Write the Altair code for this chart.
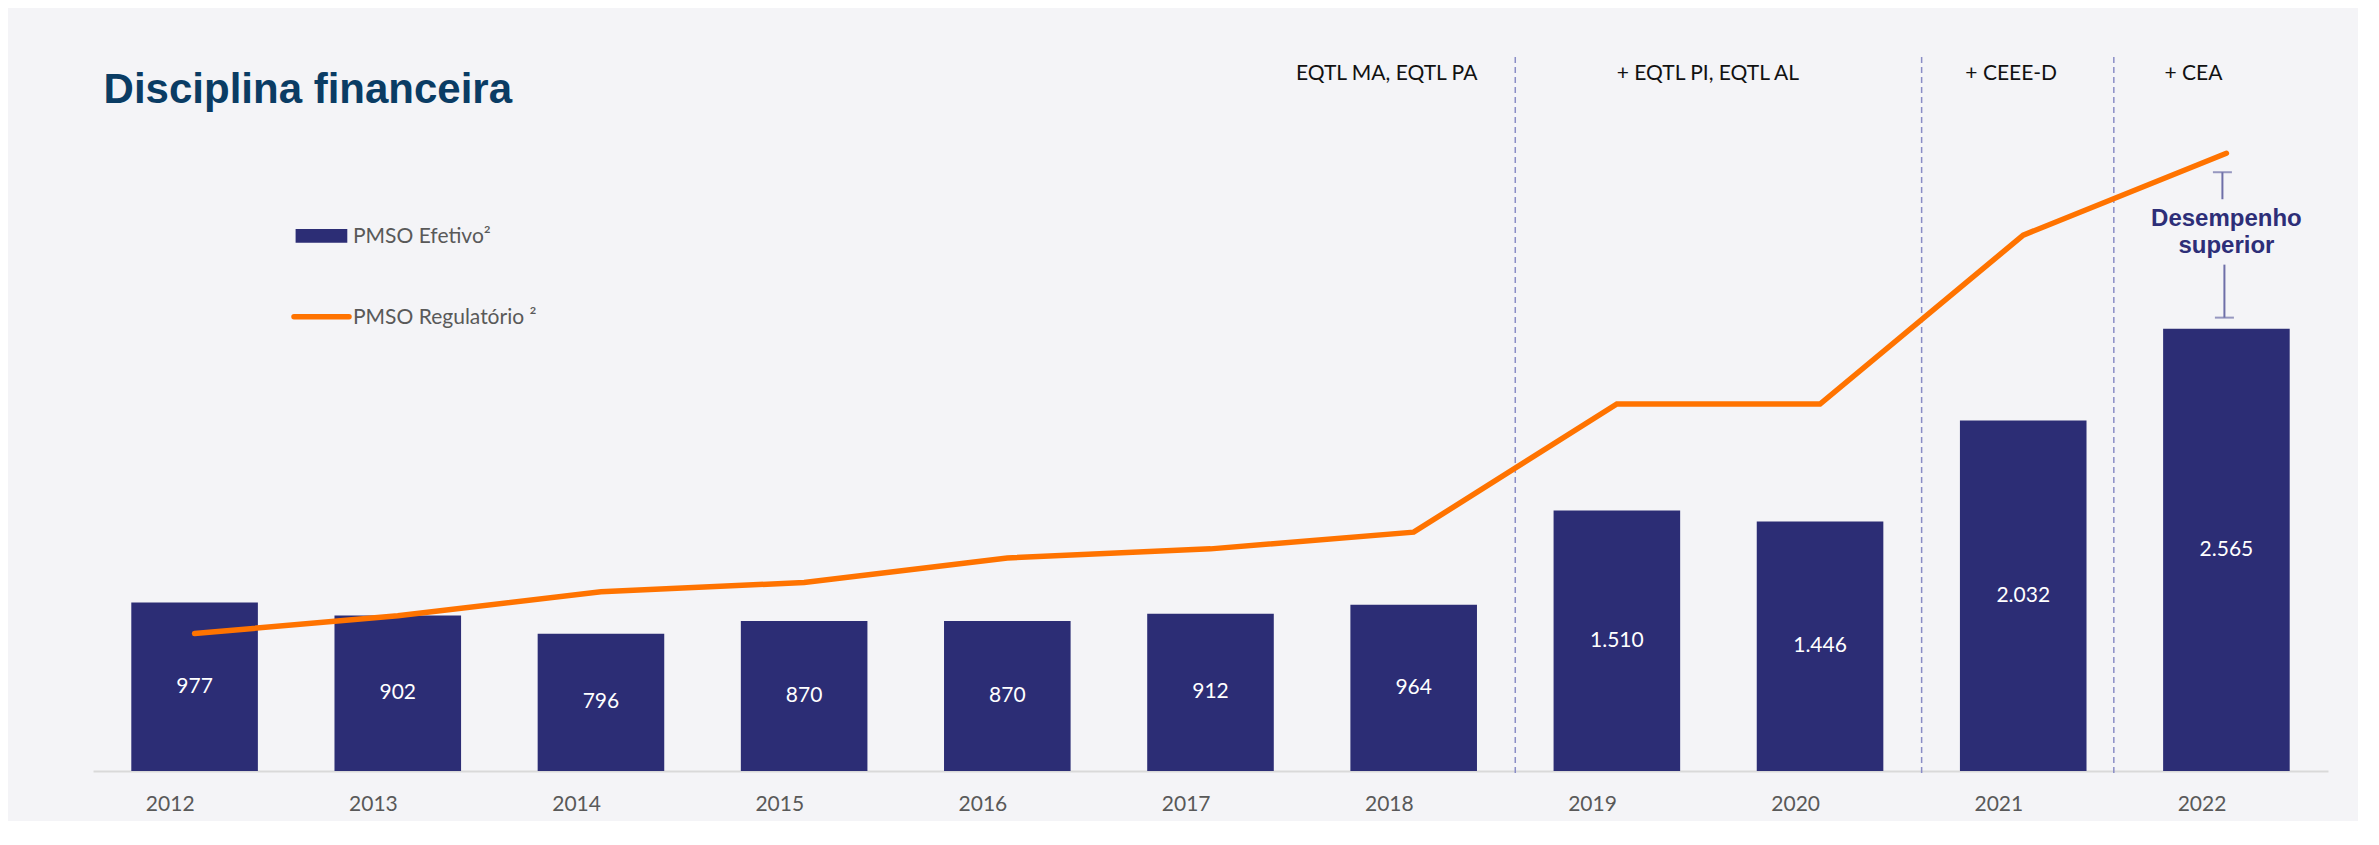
import altair as alt
import pandas as pd

# ---------------- data ----------------
years = [str(y) for y in range(2012, 2023)]
pmso_efetivo = [977, 902, 796, 870, 870, 912, 964, 1510, 1446, 2032, 2565]
pmso_regulatorio = [797, 900, 1039, 1093, 1235, 1288, 1385, 2128, 2128, 3107, 3582]
legend_labels = ["PMSO Efetivo²", "PMSO Regulatório ²"]
title_text = ["Disciplina financeira"]
group_labels = ["EQTL MA, EQTL PA", "+ EQTL PI, EQTL AL", "+ CEEE-D", "+ CEA"]
group_anchor_years = ["2018", "2019", "2021", "2022"]
divider_years = ["2019", "2021", "2022"]
annotation_lines = ["Desempenho", "superior"]

df = pd.DataFrame({"ano": years, "efetivo": pmso_efetivo, "regulatorio": pmso_regulatorio})
groups_df = pd.DataFrame({"ano": group_anchor_years, "txt": group_labels})
div_df = pd.DataFrame({"ano": divider_years})
title_df = pd.DataFrame({"t": title_text})
leg_df = pd.DataFrame({"t": legend_labels})
ann_df = pd.DataFrame({"ano": ["2022", "2022"], "t": annotation_lines})

# ---------------- style ----------------
W, H = 2235, 714
STEP = W / 11
NAVY = "#2C2D75"
ORANGE = "#FF7300"
GRAY = "#595959"
FONT = "Lato"

x_enc = alt.X(
    "ano:N",
    scale=alt.Scale(domain=years, paddingInner=0.377, paddingOuter=0.1885),
    axis=alt.Axis(
        title=None, labelAngle=0, ticks=False, tickSize=0, labelPadding=33,
        labelFont=FONT, labelFontSize=21, labelColor=GRAY,
        domainColor="#D9D9D9", domainWidth=2, grid=False,
    ),
)
y_scale = alt.Scale(domain=[0, 4140], nice=False, zero=True)

base = alt.Chart(df)

bars = base.mark_bar(color=NAVY).encode(
    x=x_enc, y=alt.Y("efetivo:Q", scale=y_scale, axis=None)
)

bar_labels = base.transform_calculate(
    mid="datum.efetivo / 2",
    lbl="replace(format(datum.efetivo, ','), ',', '.')",
).mark_text(color="white", font=FONT, fontSize=21, baseline="middle").encode(
    x=alt.X("ano:N"), y=alt.Y("mid:Q", scale=y_scale), text="lbl:N"
)

line = base.mark_line(color=ORANGE, strokeWidth=5.5, strokeCap="round").encode(
    x=alt.X("ano:N"), y=alt.Y("regulatorio:Q", scale=y_scale)
)

div_common = dict(strokeDash=[6, 4], color="#8A8DC6", strokeWidth=1.5)
dividers_a = alt.Chart(div_df).transform_filter("datum.ano != '2022'").mark_rule(
    xOffset=-STEP / 2, **div_common
).encode(x=alt.X("ano:N"), y=alt.value(0), y2=alt.value(H + 2))
dividers_b = alt.Chart(div_df).transform_filter("datum.ano == '2022'").mark_rule(
    xOffset=-STEP / 2 - 11, **div_common
).encode(x=alt.X("ano:N"), y=alt.value(0), y2=alt.value(H + 2))

group_offsets = [-27, 91, -12, -33]
group_layers = []
for lab, off in zip(group_labels, group_offsets):
    group_layers.append(
        alt.Chart(groups_df).transform_filter(alt.datum.txt == lab).mark_text(
            font=FONT, fontSize=21, color="#111111", baseline="alphabetic", dx=off
        ).encode(x=alt.X("ano:N"), y=alt.value(23), text="txt:N")
    )

title = alt.Chart(title_df).mark_text(
    align="left", baseline="alphabetic", font="Liberation Sans", fontWeight="bold",
    fontSize=42, color="#0A3C64",
).encode(x=alt.value(10.6), y=alt.value(46), text="t:N")

# legend
leg_swatch = alt.Chart(leg_df.head(1)).mark_rect(color=NAVY).encode(
    x=alt.value(202.6), x2=alt.value(254.3), y=alt.value(172), y2=alt.value(185.7)
)
leg_line = alt.Chart(leg_df.head(1)).mark_rule(color=ORANGE, strokeWidth=5.5, strokeCap="round").encode(
    x=alt.value(201), x2=alt.value(256), y=alt.value(259.7)
)
leg_t1 = alt.Chart(leg_df).transform_filter(alt.datum.t == legend_labels[0]).mark_text(
    align="left", baseline="alphabetic", font=FONT, fontSize=21, color=GRAY
).encode(x=alt.value(260), y=alt.value(185.7), text="t:N")
leg_t2 = alt.Chart(leg_df).transform_filter(alt.datum.t == legend_labels[1]).mark_text(
    align="left", baseline="alphabetic", font=FONT, fontSize=21, color=GRAY
).encode(x=alt.value(260), y=alt.value(267), text="t:N")

# annotation "Desempenho superior"
ANN = "#6E6FA8"
d22 = base.transform_filter("datum.ano == '2022'")
top_cap = d22.mark_tick(color=ANN, size=19, thickness=2, xOffset=-4, yOffset=19).encode(
    x=alt.X("ano:N"), y=alt.Y("regulatorio:Q", scale=y_scale)
)
top_stem = d22.mark_rule(color=ANN, strokeWidth=2, xOffset=-4, yOffset=19, y2Offset=46).encode(
    x=alt.X("ano:N"), y=alt.Y("regulatorio:Q", scale=y_scale), y2="regulatorio:Q"
)
bot_cap = d22.mark_tick(color=ANN, size=19, thickness=2, xOffset=-2, yOffset=-11).encode(
    x=alt.X("ano:N"), y=alt.Y("efetivo:Q", scale=y_scale)
)
bot_stem = d22.mark_rule(color=ANN, strokeWidth=2, xOffset=-2, yOffset=-64, y2Offset=-11).encode(
    x=alt.X("ano:N"), y=alt.Y("efetivo:Q", scale=y_scale), y2="efetivo:Q"
)
ann_t1 = alt.Chart(ann_df).transform_filter(alt.datum.t == annotation_lines[0]).mark_text(
    font="Liberation Sans", fontWeight="bold", fontSize=24, color="#2D2E78", baseline="alphabetic"
).encode(x=alt.X("ano:N"), y=alt.value(169), text="t:N")
ann_t2 = alt.Chart(ann_df).transform_filter(alt.datum.t == annotation_lines[1]).mark_text(
    font="Liberation Sans", fontWeight="bold", fontSize=24, color="#2D2E78", baseline="alphabetic"
).encode(x=alt.X("ano:N"), y=alt.value(196.3), text="t:N")

chart = alt.layer(
    dividers_a, dividers_b, bars, bar_labels, line,
    *group_layers, title, leg_swatch, leg_line, leg_t1, leg_t2,
    top_cap, top_stem, bot_cap, bot_stem, ann_t1, ann_t2,
).properties(
    width=W, height=H, autosize="none",
    padding={"left": 85, "top": 49, "right": 30, "bottom": 50},
    background="#F4F4F7",
).configure_view(stroke=None)

chart.save("out.html", embed_options={"renderer": "svg", "actions": False})
